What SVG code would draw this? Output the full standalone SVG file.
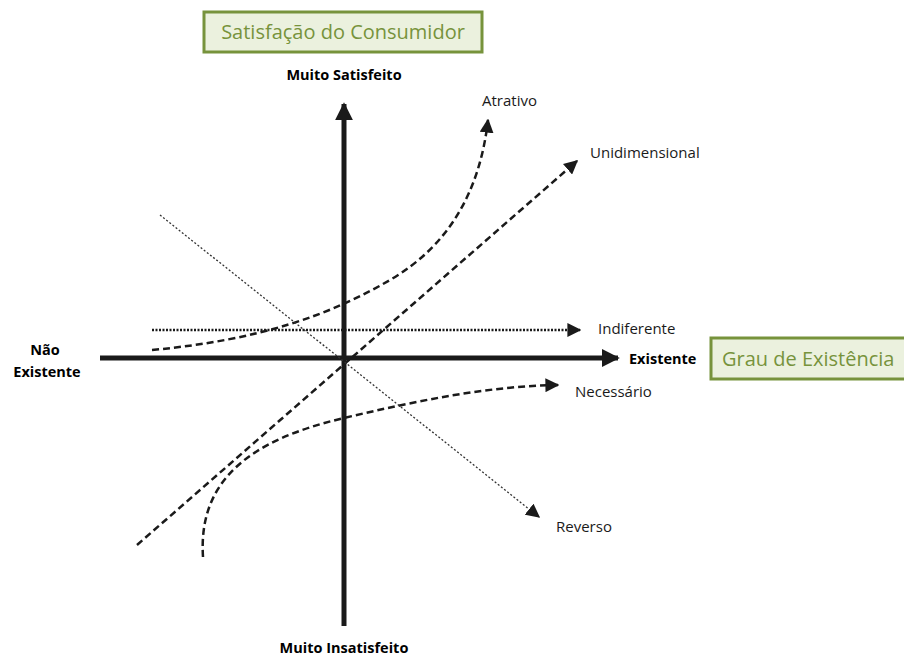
<svg xmlns="http://www.w3.org/2000/svg" width="904" height="656" viewBox="0 0 904 656">
<style>
.box{fill:#ebf1de;stroke:#77933c;stroke-width:3}
.boxt{font-family:"Open Sans","Liberation Sans",sans-serif;font-size:20px;fill:#77933c}
.ax{font-family:"Open Sans","Liberation Sans",sans-serif;font-size:14.5px;font-weight:bold;fill:#000}
.lb{font-family:"Open Sans","Liberation Sans",sans-serif;font-size:15px;fill:#1a1a1a}
.axis{stroke:#1a1a1a;stroke-width:5;fill:none}
.dash{stroke:#1a1a1a;stroke-width:2.5;fill:none;stroke-dasharray:7 4}
.dot{stroke:#1a1a1a;stroke-width:2.5;fill:none;stroke-dasharray:2 1.5}
.thin{stroke:#333;stroke-width:1.3;fill:none;stroke-dasharray:2 2}
</style>
<defs>
<marker id="ah" viewBox="0 0 10 10" refX="9" refY="5" markerWidth="14" markerHeight="14" markerUnits="userSpaceOnUse" orient="auto"><path d="M0,0 L10,5 L0,10 z" fill="#1a1a1a"/></marker>
<marker id="ahBig" viewBox="0 0 10 10" refX="9" refY="5" markerWidth="18" markerHeight="18" markerUnits="userSpaceOnUse" orient="auto"><path d="M0,0 L10,5 L0,10 z" fill="#1a1a1a"/></marker>
</defs>
<g id="title-y"><rect class="box" x="204" y="12" width="278" height="40"/><text class="boxt" x="343" y="39" text-anchor="middle">Satisfação do Consumidor</text></g>
<g id="title-x"><rect class="box" x="711" y="338" width="200" height="41"/><text class="boxt" x="722" y="366">Grau de Existência</text></g>
<g id="connectors">
<line class="axis" x1="344" y1="626" x2="344" y2="104" marker-end="url(#ahBig)"/>
<line class="axis" x1="100" y1="358" x2="618" y2="358" marker-end="url(#ahBig)"/>
<path class="dash" d="M152,350 C260,340 330,315 390,280 C450,245 480,190 488,120" marker-end="url(#ah)"/>
<line class="dash" x1="137" y1="545" x2="577" y2="161" marker-end="url(#ah)"/>
<line class="dot" x1="152" y1="330" x2="580" y2="330" marker-end="url(#ah)"/>
<path class="dash" d="M203,557 C198,480 250,440 344,418 C420,400 490,386 558,385" marker-end="url(#ah)"/>
<line class="thin" x1="160" y1="215" x2="539" y2="517" marker-end="url(#ah)"/>
</g>
<g id="labels">
<text class="ax" x="344" y="80" text-anchor="middle">Muito Satisfeito</text>
<text class="ax" x="344" y="653" text-anchor="middle">Muito Insatisfeito</text>
<text class="ax" x="45" y="355" text-anchor="middle">Não</text>
<text class="ax" x="47" y="377" text-anchor="middle">Existente</text>
<text class="ax" x="629" y="364">Existente</text>
<text class="lb" x="482" y="106">Atrativo</text>
<text class="lb" x="590" y="158">Unidimensional</text>
<text class="lb" x="598" y="334">Indiferente</text>
<text class="lb" x="575" y="397">Necessário</text>
<text class="lb" x="556" y="532">Reverso</text>
</g>
</svg>
